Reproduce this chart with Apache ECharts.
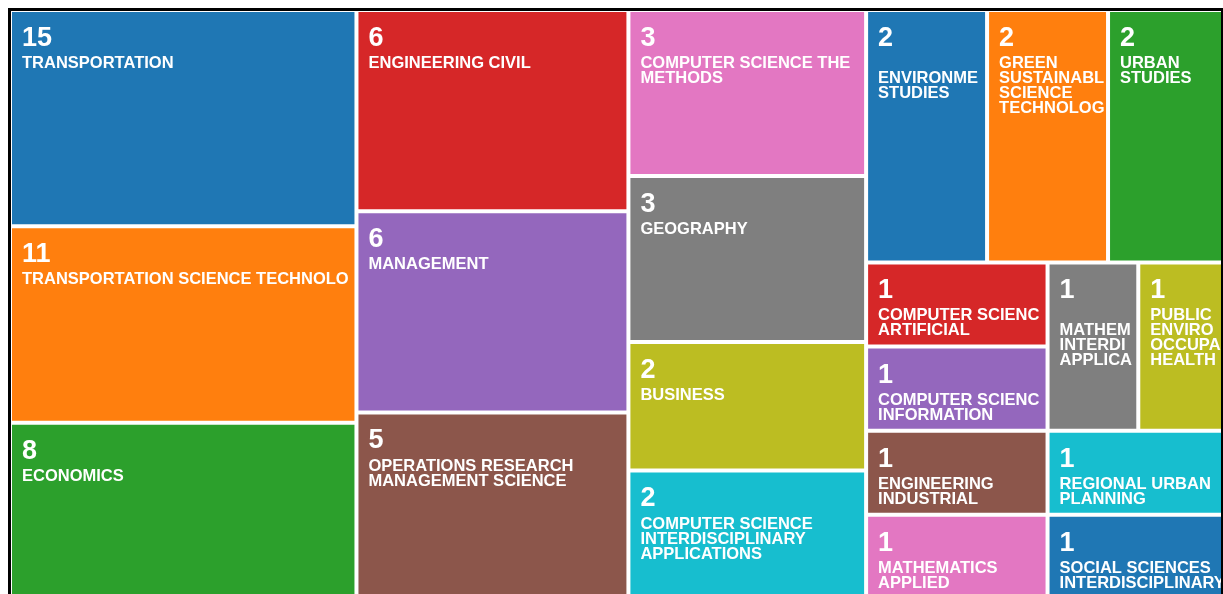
<!DOCTYPE html>
<html>
<head>
<meta charset="utf-8">
<script src="https://cdn.jsdelivr.net/npm/echarts@6/dist/echarts.min.js"></script>
<style>
html,body{margin:0;padding:0;background:#fff;overflow:hidden}
#c{width:1223px;height:594px}
</style>
</head>
<body>
<div id="c"></div>
<script>
// Category labels, with the line breaks shown in the picture
const labels = [
  'TRANSPORTATION',
  'TRANSPORTATION SCIENCE TECHNOLOGY',
  'ECONOMICS',
  'ENGINEERING CIVIL',
  'MANAGEMENT',
  'OPERATIONS RESEARCH\nMANAGEMENT SCIENCE',
  'COMPUTER SCIENCE THEORY\nMETHODS',
  'GEOGRAPHY',
  'BUSINESS',
  'COMPUTER SCIENCE\nINTERDISCIPLINARY\nAPPLICATIONS',
  '\nENVIRONMENTAL\nSTUDIES',
  'GREEN\nSUSTAINABLE\nSCIENCE\nTECHNOLOGY',
  'URBAN\nSTUDIES',
  'COMPUTER SCIENCE\nARTIFICIAL\nINTELLIGENCE',
  'COMPUTER SCIENCE\nINFORMATION\nSYSTEMS',
  'ENGINEERING\nINDUSTRIAL',
  'MATHEMATICS\nAPPLIED',
  '\nMATHEMATICS\nINTERDISCIPLINARY\nAPPLICATIONS',
  'PUBLIC\nENVIRONMENTAL\nOCCUPATIONAL\nHEALTH',
  'REGIONAL URBAN\nPLANNING',
  'SOCIAL SCIENCES\nINTERDISCIPLINARY'
];
// Counts shown in each tile
const counts = [15, 11, 8, 6, 6, 5, 3, 3, 2, 2, 2, 2, 2, 1, 1, 1, 1, 1, 1, 1, 1];
const palette = ['#1f77b4','#ff7f0e','#2ca02c','#d62728','#9467bd','#8c564b','#e377c2','#7f7f7f','#bcbd22','#17becf'];

// Tile area scale of the original chart: area grows as 1 + log2(count)
const areaOf = c => 1 + Math.log2(c);

const data = labels.map((l, i) => ({
  name: l.replace(/\n/g, ' ').trim(),
  value: [areaOf(counts[i]), counts[i]],
  lines: l,
  itemStyle: { color: palette[i % palette.length] }
}));

const F = '"Liberation Sans", Arial, Helvetica, sans-serif';
const chart = echarts.init(document.getElementById('c'), null, { renderer: 'canvas' });
chart.setOption({
  animation: false,
  tooltip: { show: false },
  graphic: [{
    type: 'rect', silent: true, z: 100,
    shape: { x: 9.5, y: 9.5, width: 1213, height: 700 },
    style: { fill: 'none', stroke: '#000', lineWidth: 3 }
  }],
  series: [{
    type: 'treemap',
    left: 12, top: 12, width: 1215, height: 585,
    roam: false,
    nodeClick: false,
    breadcrumb: { show: false },
    sort: false,
    squareRatio: 0.5 * (1 + Math.sqrt(5)),
    emphasis: { disabled: true },
    levels: [
      { itemStyle: { borderWidth: 0, gapWidth: 4 } },
      { itemStyle: { borderWidth: 0, gapWidth: 0 } }
    ],
    label: {
      show: true,
      position: 'insideTopLeft',
      distance: 0,
      padding: [9, 0, 0, 10],
      overflow: 'truncate',
      ellipsis: '',
      formatter: p => {
        const ls = p.data.lines.split('\n').map(s => '{n|' + (s || ' ') + '}');
        return '{v|' + p.data.value[1] + '}\n' + ls.join('\n');
      },
      rich: {
        v: { fontSize: 27, lineHeight: 35, fontWeight: 'bold', color: '#fff', fontFamily: F },
        n: { fontSize: 16.5, lineHeight: 15, fontWeight: 'bold', color: '#fff', fontFamily: F }
      }
    },
    data: data
  }]
});
</script>
</body>
</html>
